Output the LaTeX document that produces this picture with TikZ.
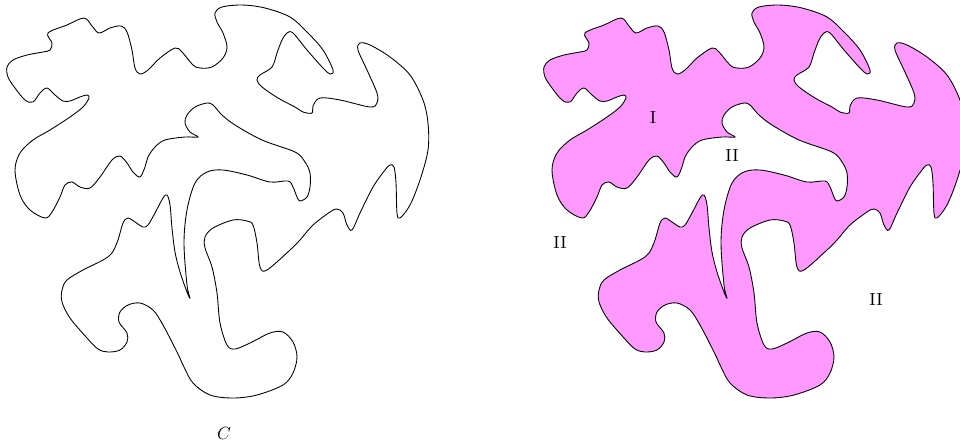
\documentclass[tikz,border=0pt]{standalone}
\usepackage{xcolor}
\definecolor{regionpink}{RGB}{255,153,255}
\usetikzlibrary{positioning}
\newcommand{\jordancurve}{plot[smooth cycle,tension=0.55] coordinates {
  (48,33) (67,25) (84,18) (92,26) (99,33) (110,28) (121,26) (127,32)
  (132,50) (135,68) (140,74) (148,70) (160,58) (175,48) (182,52) (193,65)
  (200,68) (212,67) (223,58) (227,47) (223,33) (217,22) (215,13) (222,7)
  (242,5) (265,8) (290,17) (307,32) (323,50) (333,70) (330,74) (323,68)
  (307,50) (293,33) (287,33) (282,40) (277,53) (272,67) (260,75) (257,80)
  (262,87) (278,98) (295,107) (303,112) (312,113) (313,106) (320,98)
  (340,100) (370,107) (377,103) (377,93) (367,70) (358,50) (360,43)
  (370,45) (390,57) (410,75) (423,100) (428,123) (428,150) (420,180)
  (410,205) (400,218) (397,213) (396,183) (394,167) (390,165) (385,170)
  (373,187) (360,213) (352,230) (347,225) (343,213) (337,209) (330,212)
  (313,225) (300,240) (290,250) (267,270) (260,267) (257,243) (253,225)
  (247,221) (233,220) (213,228) (205,237) (205,248) (212,267) (217,293)
  (220,323) (227,345) (235,349) (250,343) (270,333) (283,332) (293,342)
  (297,357) (293,373) (283,385) (257,395) (233,398) (210,395) (193,383)
  (184,367) (177,352) (163,325) (153,310) (140,303) (128,305) (120,312)
  (119,322) (127,333) (127,342) (120,350) (108,352) (98,349) (87,338)
  (70,318) (62,302) (62,290) (67,280) (83,270) (103,260) (112,253)
  (118,240) (123,223) (128,218) (135,222) (143,227) (148,225) (155,213)
  (163,198) (167,195) (170,205) (172,228) (175,252) (180,272) (187,292)
  (190,298) (187,285) (184,243) (187,210) (195,183) (207,172) (223,170)
  (247,175) (270,182) (288,181) (293,187) (297,197) (300,201) (307,197)
  (310,187) (310,173) (305,162) (295,152) (262,140) (235,125) (222,115)
  (213,105) (207,103) (195,107) (187,115) (185,123) (190,132) (198,137)
  (185,137) (165,140) (155,147) (148,157) (145,167) (140,177) (133,172)
  (127,163) (120,156) (112,160) (100,177) (90,188) (80,187) (72,182)
  (65,185) (60,197) (52,212) (45,218) (30,210) (20,195) (15,170) (20,153)
  (33,140) (50,130) (70,117) (83,107) (89,98) (87,95) (80,97) (70,101)
  (63,101) (55,95) (47,88) (40,93) (33,102) (25,100) (15,88) (8,77)
  (7,67) (13,60) (27,55) (43,52) (50,50) (52,43)}}
\begin{document}
\begin{tikzpicture}[x={(0.02cm,0)},y={(0,-0.02cm)}]
  \useasboundingbox (0,0) rectangle (960,444);
  % The curve C
  \draw[black,line width=0.5pt] \jordancurve;
  \node (cname) at (224,433) {$C$};
  % Inside and outside
  \begin{scope}[shift={(537,0)}]
    \draw[black,fill=regionpink,line width=0.5pt] \jordancurve;
  \end{scope}
  \node (inside) at (653,117) {I};
  \node (outa) at (732,155) {II};
  \node (outb) at (560,242) {II};
  \node (outc) at (876,299) {II};
\end{tikzpicture}
\end{document}
